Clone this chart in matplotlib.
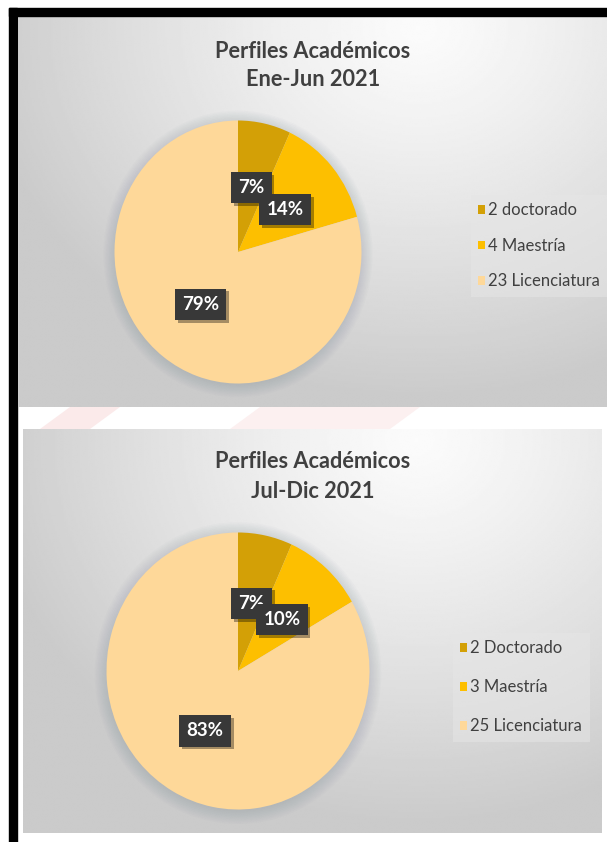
import numpy as np
import matplotlib.pyplot as plt
from matplotlib import patches, patheffects

# datos de los dos periodos
titulo = "Perfiles Académicos"
periodos = ["Ene-Jun 2021", "Jul-Dic 2021"]
cantidades_1 = [2, 4, 23]
etiquetas_1 = ["2 doctorado", "4 Maestría", "23 Licenciatura"]
cantidades_2 = [2, 3, 25]
etiquetas_2 = ["2 Doctorado", "3 Maestría", "25 Licenciatura"]
colores = ["#D3A006", "#FDBF00", "#FED899"]

W, H = 607, 842
plt.rcParams['font.family'] = ['Lato', 'DejaVu Sans']

fig = plt.figure(figsize=(W / 100, H / 100), dpi=100)
base = fig.add_axes([0, 0, 1, 1])
base.axis('off')


def fondo(x0, y0, x1, y1, cx, cy):
    # degradado radial gris como el estilo de Excel
    xs = np.linspace(x0, x1, 300)
    ys = np.linspace(y0, y1, 200)
    X, Y = np.meshgrid(xs, ys)
    d = np.sqrt(((X - cx) / ((x1 - x0) * 0.75)) ** 2 + ((Y - cy) / ((y1 - y0) * 0.95)) ** 2)
    v = 0.985 - 0.19 * np.clip(d, 0, 1) ** 1.2
    base.imshow(v, extent=(x0, x1, y1, y0), cmap='gray', vmin=0, vmax=1,
                aspect='auto', zorder=1, interpolation='bilinear')


def pastel(cantidades, etiquetas, periodo, panel, centro, radios, titulo_y, leyenda, espacio):
    x0, y0, x1, y1 = panel
    fondo(x0, y0, x1, y1, x0 + 0.68 * (x1 - x0), y0 + 10)
    xc = (x0 + x1) / 2
    base.text(xc, titulo_y, titulo, ha='center', va='center', fontsize=15.7,
              fontweight='bold', color='#404040', zorder=5)
    base.text(xc, titulo_y + 29, periodo, ha='center', va='center', fontsize=15.7,
              fontweight='bold', color='#404040', zorder=5)

    cx, cy = centro
    rx, ry = radios
    ax = fig.add_axes([(cx - rx) / W, 1 - (cy + ry) / H, 2 * rx / W, 2 * ry / H])
    # sombra suave alrededor del pastel
    for s in np.linspace(1.0, 1.09, 9):
        ax.add_patch(patches.Ellipse((0, -0.015), 2 * s, 2 * s, color='#7C8898',
                                     alpha=0.03, lw=0, clip_on=False, zorder=0))
    cunas, _, textos = ax.pie(cantidades, colors=colores, startangle=90, counterclock=False,
                              autopct=lambda p: f"{p:.0f}%", pctdistance=0.5,
                              wedgeprops=dict(linewidth=0),
                              textprops=dict(color='white', fontsize=13.5, fontweight='bold'))
    ax.set_aspect('auto')
    ax.set_xlim(-1, 1)
    ax.set_ylim(-1, 1)
    ax.axis('off')
    for t in textos:
        t.set_bbox(dict(boxstyle='square,pad=0.38', fc='#383838', ec='none'))
        t.get_bbox_patch().set_path_effects([
            patheffects.withSimplePatchShadow(offset=(2, -2), shadow_rgbFace='black', alpha=0.35),
            patheffects.Normal()])

    lx, ly = leyenda
    ax.legend(cunas, etiquetas, loc='upper left', bbox_to_anchor=(lx / W, 1 - ly / H),
              bbox_transform=fig.transFigure, fontsize=12, handlelength=0.4,
              handleheight=0.4, handletextpad=0.2, labelspacing=espacio, borderpad=0.45,
              fancybox=False, facecolor='#E6E6E6', edgecolor='none', framealpha=0.5,
              labelcolor='#404040')


# marco negro y separación entre paneles
base.add_patch(patches.Rectangle((9, 8), W - 9, 8, color='black', zorder=6))
base.add_patch(patches.Rectangle((9, 8), 8, H - 8, color='black', zorder=6))
base.add_patch(patches.Polygon([(40, 429), (70, 407), (120, 407), (90, 429)],
                               color='#FBEAEA', lw=0, zorder=0))
base.add_patch(patches.Polygon([(230, 429), (260, 407), (420, 407), (390, 429)],
                               color='#FCF0F0', lw=0, zorder=0))

pastel(cantidades_1, etiquetas_1, periodos[0], (19, 17, W, 407), (238, 252), (123.5, 131.5),
       51, (462.5, 186.5), 1.17)
pastel(cantidades_2, etiquetas_2, periodos[1], (23, 429, 602, 833), (238, 671), (131.5, 138.5),
       462, (444.5, 624.5), 1.38)

base.set_xlim(0, W)
base.set_ylim(H, 0)

fig.savefig("out.png", dpi=100, facecolor='white')
